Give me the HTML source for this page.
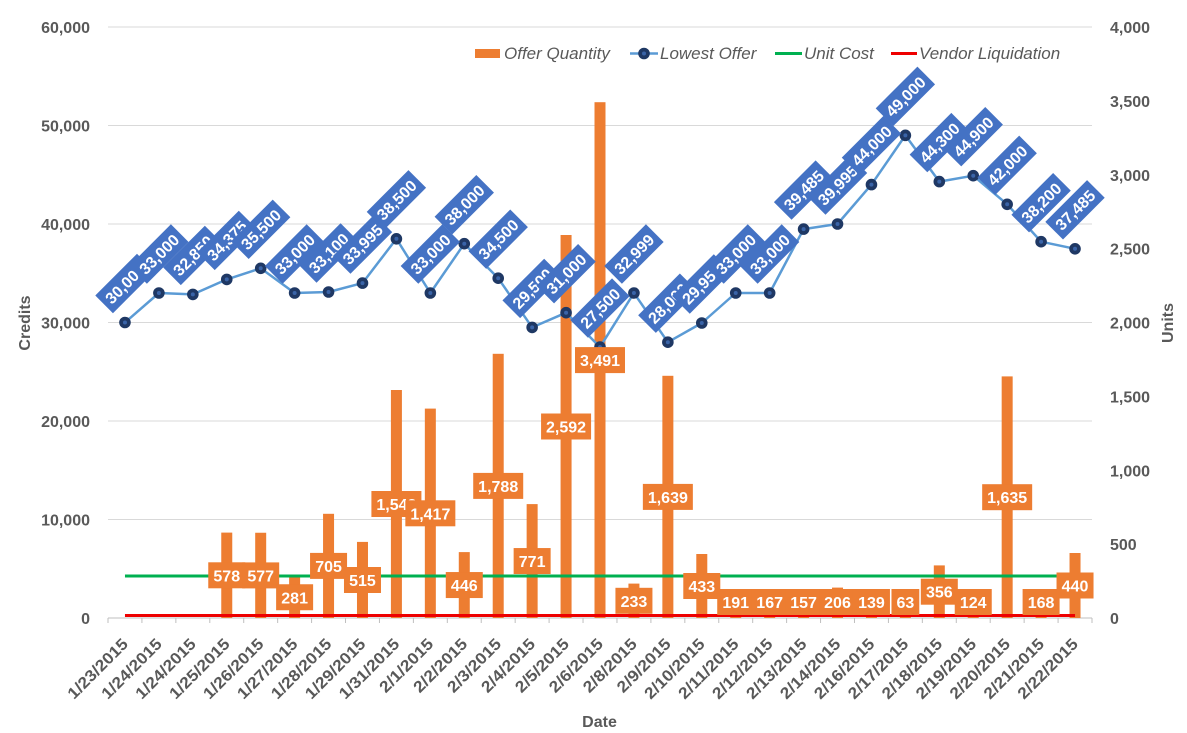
<!DOCTYPE html>
<html>
<head>
<meta charset="utf-8">
<style>
  html, body { margin: 0; padding: 0; background: #ffffff; }
  svg { display: block; }
  .tick { font-family: "Liberation Sans", sans-serif; font-weight: bold; font-size: 16px; fill: #595959; }
  .leg { font-family: "Liberation Sans", sans-serif; font-style: italic; font-size: 17px; fill: #595959; }
  .bl { font-family: "Liberation Sans", sans-serif; font-weight: bold; font-size: 16px; fill: #ffffff; }
</style>
</head>
<body>
<svg width="1187" height="733" viewBox="0 0 1187 733" xmlns="http://www.w3.org/2000/svg">
  <rect width="1187" height="733" fill="#ffffff"/>

  <!-- gridlines -->
  <g stroke="#D9D9D9" stroke-width="1">
    <line x1="108" y1="27" x2="1092" y2="27"/>
    <line x1="108" y1="125.5" x2="1092" y2="125.5"/>
    <line x1="108" y1="224" x2="1092" y2="224"/>
    <line x1="108" y1="322.5" x2="1092" y2="322.5"/>
    <line x1="108" y1="421" x2="1092" y2="421"/>
    <line x1="108" y1="519.5" x2="1092" y2="519.5"/>
  </g>

  <!-- x axis -->
  <g stroke="#BFBFBF" stroke-width="1">
    <line x1="108" y1="618" x2="1092" y2="618"/>
    <line x1="108" y1="618" x2="108" y2="623"/>
    <line x1="141.93" y1="618" x2="141.93" y2="623"/>
    <line x1="175.86" y1="618" x2="175.86" y2="623"/>
    <line x1="209.79" y1="618" x2="209.79" y2="623"/>
    <line x1="243.72" y1="618" x2="243.72" y2="623"/>
    <line x1="277.66" y1="618" x2="277.66" y2="623"/>
    <line x1="311.59" y1="618" x2="311.59" y2="623"/>
    <line x1="345.52" y1="618" x2="345.52" y2="623"/>
    <line x1="379.45" y1="618" x2="379.45" y2="623"/>
    <line x1="413.38" y1="618" x2="413.38" y2="623"/>
    <line x1="447.31" y1="618" x2="447.31" y2="623"/>
    <line x1="481.24" y1="618" x2="481.24" y2="623"/>
    <line x1="515.17" y1="618" x2="515.17" y2="623"/>
    <line x1="549.10" y1="618" x2="549.10" y2="623"/>
    <line x1="583.03" y1="618" x2="583.03" y2="623"/>
    <line x1="616.97" y1="618" x2="616.97" y2="623"/>
    <line x1="650.90" y1="618" x2="650.90" y2="623"/>
    <line x1="684.83" y1="618" x2="684.83" y2="623"/>
    <line x1="718.76" y1="618" x2="718.76" y2="623"/>
    <line x1="752.69" y1="618" x2="752.69" y2="623"/>
    <line x1="786.62" y1="618" x2="786.62" y2="623"/>
    <line x1="820.55" y1="618" x2="820.55" y2="623"/>
    <line x1="854.48" y1="618" x2="854.48" y2="623"/>
    <line x1="888.41" y1="618" x2="888.41" y2="623"/>
    <line x1="922.34" y1="618" x2="922.34" y2="623"/>
    <line x1="956.28" y1="618" x2="956.28" y2="623"/>
    <line x1="990.21" y1="618" x2="990.21" y2="623"/>
    <line x1="1024.14" y1="618" x2="1024.14" y2="623"/>
    <line x1="1058.07" y1="618" x2="1058.07" y2="623"/>
    <line x1="1092" y1="618" x2="1092" y2="623"/>
  </g>

  <!-- left axis labels -->
  <g class="tick" text-anchor="end">
    <text x="90" y="33">60,000</text>
    <text x="90" y="131.5">50,000</text>
    <text x="90" y="230">40,000</text>
    <text x="90" y="328.5">30,000</text>
    <text x="90" y="427">20,000</text>
    <text x="90" y="525.5">10,000</text>
    <text x="90" y="624">0</text>
  </g>
  <!-- right axis labels -->
  <g class="tick" text-anchor="start">
    <text x="1110" y="33">4,000</text>
    <text x="1110" y="106.9">3,500</text>
    <text x="1110" y="180.75">3,000</text>
    <text x="1110" y="254.6">2,500</text>
    <text x="1110" y="328.5">2,000</text>
    <text x="1110" y="402.4">1,500</text>
    <text x="1110" y="476.25">1,000</text>
    <text x="1110" y="550.1">500</text>
    <text x="1110" y="624">0</text>
  </g>

  <!-- axis titles -->
  <text class="tick" text-anchor="middle" transform="translate(30,323) rotate(-90)">Credits</text>
  <text class="tick" text-anchor="middle" transform="translate(1173,323) rotate(-90)">Units</text>
  <text class="tick" x="599.5" y="727" text-anchor="middle">Date</text>

  <!-- x labels -->
  <g class="tick" text-anchor="end">
    <text transform="translate(128.97,645) rotate(-45)" textLength="77.8" lengthAdjust="spacingAndGlyphs">1/23/2015</text>
    <text transform="translate(162.90,645) rotate(-45)" textLength="77.8" lengthAdjust="spacingAndGlyphs">1/24/2015</text>
    <text transform="translate(196.83,645) rotate(-45)" textLength="77.8" lengthAdjust="spacingAndGlyphs">1/24/2015</text>
    <text transform="translate(230.76,645) rotate(-45)" textLength="77.8" lengthAdjust="spacingAndGlyphs">1/25/2015</text>
    <text transform="translate(264.69,645) rotate(-45)" textLength="77.8" lengthAdjust="spacingAndGlyphs">1/26/2015</text>
    <text transform="translate(298.62,645) rotate(-45)" textLength="77.8" lengthAdjust="spacingAndGlyphs">1/27/2015</text>
    <text transform="translate(332.55,645) rotate(-45)" textLength="77.8" lengthAdjust="spacingAndGlyphs">1/28/2015</text>
    <text transform="translate(366.48,645) rotate(-45)" textLength="77.8" lengthAdjust="spacingAndGlyphs">1/29/2015</text>
    <text transform="translate(400.41,645) rotate(-45)" textLength="77.8" lengthAdjust="spacingAndGlyphs">1/31/2015</text>
    <text transform="translate(434.34,645) rotate(-45)" textLength="68.7" lengthAdjust="spacingAndGlyphs">2/1/2015</text>
    <text transform="translate(468.28,645) rotate(-45)" textLength="68.7" lengthAdjust="spacingAndGlyphs">2/2/2015</text>
    <text transform="translate(502.21,645) rotate(-45)" textLength="68.7" lengthAdjust="spacingAndGlyphs">2/3/2015</text>
    <text transform="translate(536.14,645) rotate(-45)" textLength="68.7" lengthAdjust="spacingAndGlyphs">2/4/2015</text>
    <text transform="translate(570.07,645) rotate(-45)" textLength="68.7" lengthAdjust="spacingAndGlyphs">2/5/2015</text>
    <text transform="translate(604.00,645) rotate(-45)" textLength="68.7" lengthAdjust="spacingAndGlyphs">2/6/2015</text>
    <text transform="translate(637.93,645) rotate(-45)" textLength="68.7" lengthAdjust="spacingAndGlyphs">2/8/2015</text>
    <text transform="translate(671.86,645) rotate(-45)" textLength="68.7" lengthAdjust="spacingAndGlyphs">2/9/2015</text>
    <text transform="translate(705.79,645) rotate(-45)" textLength="77.8" lengthAdjust="spacingAndGlyphs">2/10/2015</text>
    <text transform="translate(739.72,645) rotate(-45)" textLength="77.8" lengthAdjust="spacingAndGlyphs">2/11/2015</text>
    <text transform="translate(773.66,645) rotate(-45)" textLength="77.8" lengthAdjust="spacingAndGlyphs">2/12/2015</text>
    <text transform="translate(807.59,645) rotate(-45)" textLength="77.8" lengthAdjust="spacingAndGlyphs">2/13/2015</text>
    <text transform="translate(841.52,645) rotate(-45)" textLength="77.8" lengthAdjust="spacingAndGlyphs">2/14/2015</text>
    <text transform="translate(875.45,645) rotate(-45)" textLength="77.8" lengthAdjust="spacingAndGlyphs">2/16/2015</text>
    <text transform="translate(909.38,645) rotate(-45)" textLength="77.8" lengthAdjust="spacingAndGlyphs">2/17/2015</text>
    <text transform="translate(943.31,645) rotate(-45)" textLength="77.8" lengthAdjust="spacingAndGlyphs">2/18/2015</text>
    <text transform="translate(977.24,645) rotate(-45)" textLength="77.8" lengthAdjust="spacingAndGlyphs">2/19/2015</text>
    <text transform="translate(1011.17,645) rotate(-45)" textLength="77.8" lengthAdjust="spacingAndGlyphs">2/20/2015</text>
    <text transform="translate(1045.10,645) rotate(-45)" textLength="77.8" lengthAdjust="spacingAndGlyphs">2/21/2015</text>
    <text transform="translate(1079.03,645) rotate(-45)" textLength="77.8" lengthAdjust="spacingAndGlyphs">2/22/2015</text>
  </g>

  <!-- bars -->
  <g fill="#ED7D31">
    <rect x="221.26" y="532.6" width="11" height="85.4"/>
    <rect x="255.19" y="532.75" width="11" height="85.25"/>
    <rect x="289.12" y="576.5" width="11" height="41.5"/>
    <rect x="323.05" y="513.8" width="11" height="104.2"/>
    <rect x="356.98" y="541.9" width="11" height="76.1"/>
    <rect x="390.91" y="390.0" width="11" height="228.0"/>
    <rect x="424.84" y="408.6" width="11" height="209.4"/>
    <rect x="458.78" y="552.1" width="11" height="65.9"/>
    <rect x="492.71" y="353.8" width="11" height="264.2"/>
    <rect x="526.64" y="504.1" width="11" height="113.9"/>
    <rect x="560.57" y="235.0" width="11" height="383.0"/>
    <rect x="594.50" y="102.2" width="11" height="515.8"/>
    <rect x="628.43" y="583.6" width="11" height="34.4"/>
    <rect x="662.36" y="375.8" width="11" height="242.2"/>
    <rect x="696.29" y="554.0" width="11" height="64.0"/>
    <rect x="730.22" y="589.8" width="11" height="28.2"/>
    <rect x="764.16" y="593.3" width="11" height="24.7"/>
    <rect x="798.09" y="594.8" width="11" height="23.2"/>
    <rect x="832.02" y="587.6" width="11" height="30.4"/>
    <rect x="865.95" y="597.5" width="11" height="20.5"/>
    <rect x="899.88" y="608.7" width="11" height="9.3"/>
    <rect x="933.81" y="565.4" width="11" height="52.6"/>
    <rect x="967.74" y="599.7" width="11" height="18.3"/>
    <rect x="1001.67" y="376.4" width="11" height="241.6"/>
    <rect x="1035.60" y="593.2" width="11" height="24.8"/>
    <rect x="1069.53" y="553.0" width="11" height="65.0"/>
  </g>

  <!-- unit cost & vendor liquidation -->
  <line x1="124.97" y1="576" x2="1075.03" y2="576" stroke="#00B050" stroke-width="3"/>
  <line x1="124.97" y1="615.5" x2="1075.03" y2="615.5" stroke="#EE0000" stroke-width="3"/>

  <!-- lowest offer line -->
  <polyline fill="none" stroke="#5B9BD5" stroke-width="2.5" stroke-linejoin="round"
    points="124.97,322.5 158.90,293.0 192.83,294.4 226.76,279.4 260.69,268.3 294.62,293.0 328.55,292.0 362.48,283.1 396.41,238.8 430.34,293.0 464.28,243.7 498.21,278.2 532.14,327.4 566.07,312.7 600.00,347.1 633.93,293.0 667.86,342.2 701.79,323.0 735.72,293.0 769.66,293.0 803.59,229.1 837.52,224.0 871.45,184.6 905.38,135.35 939.31,181.6 973.24,175.7 1007.17,204.3 1041.10,241.7 1075.03,248.8"/>
  <g fill="#1F3864" stroke="#1F3864" stroke-width="1">
    <circle cx="124.97" cy="322.5" r="5.3"/><circle cx="158.90" cy="293.0" r="5.3"/><circle cx="192.83" cy="294.4" r="5.3"/><circle cx="226.76" cy="279.4" r="5.3"/><circle cx="260.69" cy="268.3" r="5.3"/><circle cx="294.62" cy="293.0" r="5.3"/><circle cx="328.55" cy="292.0" r="5.3"/><circle cx="362.48" cy="283.1" r="5.3"/><circle cx="396.41" cy="238.8" r="5.3"/><circle cx="430.34" cy="293.0" r="5.3"/><circle cx="464.28" cy="243.7" r="5.3"/><circle cx="498.21" cy="278.2" r="5.3"/><circle cx="532.14" cy="327.4" r="5.3"/><circle cx="566.07" cy="312.7" r="5.3"/><circle cx="600.00" cy="347.1" r="5.3"/><circle cx="633.93" cy="293.0" r="5.3"/><circle cx="667.86" cy="342.2" r="5.3"/><circle cx="701.79" cy="323.0" r="5.3"/><circle cx="735.72" cy="293.0" r="5.3"/><circle cx="769.66" cy="293.0" r="5.3"/><circle cx="803.59" cy="229.1" r="5.3"/><circle cx="837.52" cy="224.0" r="5.3"/><circle cx="871.45" cy="184.6" r="5.3"/><circle cx="905.38" cy="135.35" r="5.3"/><circle cx="939.31" cy="181.6" r="5.3"/><circle cx="973.24" cy="175.7" r="5.3"/><circle cx="1007.17" cy="204.3" r="5.3"/><circle cx="1041.10" cy="241.7" r="5.3"/><circle cx="1075.03" cy="248.8" r="5.3"/>
  </g>
  <g fill="#3A64A8">
    <circle cx="124.97" cy="322.5" r="2"/><circle cx="158.90" cy="293.0" r="2"/><circle cx="192.83" cy="294.4" r="2"/><circle cx="226.76" cy="279.4" r="2"/><circle cx="260.69" cy="268.3" r="2"/><circle cx="294.62" cy="293.0" r="2"/><circle cx="328.55" cy="292.0" r="2"/><circle cx="362.48" cy="283.1" r="2"/><circle cx="396.41" cy="238.8" r="2"/><circle cx="430.34" cy="293.0" r="2"/><circle cx="464.28" cy="243.7" r="2"/><circle cx="498.21" cy="278.2" r="2"/><circle cx="532.14" cy="327.4" r="2"/><circle cx="566.07" cy="312.7" r="2"/><circle cx="600.00" cy="347.1" r="2"/><circle cx="633.93" cy="293.0" r="2"/><circle cx="667.86" cy="342.2" r="2"/><circle cx="701.79" cy="323.0" r="2"/><circle cx="735.72" cy="293.0" r="2"/><circle cx="769.66" cy="293.0" r="2"/><circle cx="803.59" cy="229.1" r="2"/><circle cx="837.52" cy="224.0" r="2"/><circle cx="871.45" cy="184.6" r="2"/><circle cx="905.38" cy="135.35" r="2"/><circle cx="939.31" cy="181.6" r="2"/><circle cx="973.24" cy="175.7" r="2"/><circle cx="1007.17" cy="204.3" r="2"/><circle cx="1041.10" cy="241.7" r="2"/><circle cx="1075.03" cy="248.8" r="2"/>
  </g>

  <!-- bar data labels -->
  <g class="bl" text-anchor="middle">
    <rect x="208.26" y="562.3" width="37" height="26" fill="#ED7D31"/><text x="226.76" y="581.3">578</text>
    <rect x="242.19" y="562.4" width="37" height="26" fill="#ED7D31"/><text x="260.69" y="581.4">577</text>
    <rect x="276.12" y="584.25" width="37" height="26" fill="#ED7D31"/><text x="294.62" y="603.25">281</text>
    <rect x="310.05" y="552.9" width="37" height="26" fill="#ED7D31"/><text x="328.55" y="571.9">705</text>
    <rect x="343.98" y="567.0" width="37" height="26" fill="#ED7D31"/><text x="362.48" y="586.0">515</text>
    <rect x="371.41" y="491.0" width="50" height="26" fill="#ED7D31"/><text x="396.41" y="510.0">1,543</text>
    <rect x="405.34" y="500.3" width="50" height="26" fill="#ED7D31"/><text x="430.34" y="519.3">1,417</text>
    <rect x="445.78" y="572.05" width="37" height="26" fill="#ED7D31"/><text x="464.28" y="591.05">446</text>
    <rect x="473.21" y="472.9" width="50" height="26" fill="#ED7D31"/><text x="498.21" y="491.9">1,788</text>
    <rect x="513.64" y="548.05" width="37" height="26" fill="#ED7D31"/><text x="532.14" y="567.05">771</text>
    <rect x="541.07" y="413.5" width="50" height="26" fill="#ED7D31"/><text x="566.07" y="432.5">2,592</text>
    <rect x="575.00" y="347.1" width="50" height="26" fill="#ED7D31"/><text x="600.00" y="366.1">3,491</text>
    <rect x="615.43" y="587.8" width="37" height="26" fill="#ED7D31"/><text x="633.93" y="606.8">233</text>
    <rect x="642.86" y="483.9" width="50" height="26" fill="#ED7D31"/><text x="667.86" y="502.9">1,639</text>
    <rect x="683.29" y="573.0" width="37" height="26" fill="#ED7D31"/><text x="701.79" y="592.0">433</text>
    <rect x="717.22" y="589" width="37" height="26" fill="#ED7D31"/><text x="735.72" y="608">191</text>
    <rect x="751.16" y="589" width="37" height="26" fill="#ED7D31"/><text x="769.66" y="608">167</text>
    <rect x="785.09" y="589" width="37" height="26" fill="#ED7D31"/><text x="803.59" y="608">157</text>
    <rect x="819.02" y="589" width="37" height="26" fill="#ED7D31"/><text x="837.52" y="608">206</text>
    <rect x="852.95" y="589" width="37" height="26" fill="#ED7D31"/><text x="871.45" y="608">139</text>
    <rect x="891.48" y="589" width="27.8" height="26" fill="#ED7D31"/><text x="905.38" y="608">63</text>
    <rect x="920.81" y="578.7" width="37" height="26" fill="#ED7D31"/><text x="939.31" y="597.7">356</text>
    <rect x="954.74" y="589" width="37" height="26" fill="#ED7D31"/><text x="973.24" y="608">124</text>
    <rect x="982.17" y="484.2" width="50" height="26" fill="#ED7D31"/><text x="1007.17" y="503.2">1,635</text>
    <rect x="1022.60" y="589" width="37" height="26" fill="#ED7D31"/><text x="1041.10" y="608">168</text>
    <rect x="1056.53" y="572.5" width="37" height="26" fill="#ED7D31"/><text x="1075.03" y="591.5">440</text>
  </g>

  <!-- lowest offer data labels -->
  <g class="bl" text-anchor="middle">
    <g transform="translate(124.97,283.5) rotate(-45)"><rect x="-29.5" y="-12.5" width="59" height="25" fill="#4472C4"/><text y="6">30,000</text></g>
    <g transform="translate(158.90,254.0) rotate(-45)"><rect x="-29.5" y="-12.5" width="59" height="25" fill="#4472C4"/><text y="6">33,000</text></g>
    <g transform="translate(192.83,255.4) rotate(-45)"><rect x="-29.5" y="-12.5" width="59" height="25" fill="#4472C4"/><text y="6">32,850</text></g>
    <g transform="translate(226.76,240.4) rotate(-45)"><rect x="-29.5" y="-12.5" width="59" height="25" fill="#4472C4"/><text y="6">34,375</text></g>
    <g transform="translate(260.69,229.3) rotate(-45)"><rect x="-29.5" y="-12.5" width="59" height="25" fill="#4472C4"/><text y="6">35,500</text></g>
    <g transform="translate(294.62,254.0) rotate(-45)"><rect x="-29.5" y="-12.5" width="59" height="25" fill="#4472C4"/><text y="6">33,000</text></g>
    <g transform="translate(328.55,253.0) rotate(-45)"><rect x="-29.5" y="-12.5" width="59" height="25" fill="#4472C4"/><text y="6">33,100</text></g>
    <g transform="translate(362.48,244.1) rotate(-45)"><rect x="-29.5" y="-12.5" width="59" height="25" fill="#4472C4"/><text y="6">33,995</text></g>
    <g transform="translate(396.41,199.8) rotate(-45)"><rect x="-29.5" y="-12.5" width="59" height="25" fill="#4472C4"/><text y="6">38,500</text></g>
    <g transform="translate(430.34,254.0) rotate(-45)"><rect x="-29.5" y="-12.5" width="59" height="25" fill="#4472C4"/><text y="6">33,000</text></g>
    <g transform="translate(464.28,204.7) rotate(-45)"><rect x="-29.5" y="-12.5" width="59" height="25" fill="#4472C4"/><text y="6">38,000</text></g>
    <g transform="translate(498.21,239.2) rotate(-45)"><rect x="-29.5" y="-12.5" width="59" height="25" fill="#4472C4"/><text y="6">34,500</text></g>
    <g transform="translate(532.14,288.4) rotate(-45)"><rect x="-29.5" y="-12.5" width="59" height="25" fill="#4472C4"/><text y="6">29,500</text></g>
    <g transform="translate(566.07,273.7) rotate(-45)"><rect x="-29.5" y="-12.5" width="59" height="25" fill="#4472C4"/><text y="6">31,000</text></g>
    <g transform="translate(600.00,308.1) rotate(-45)"><rect x="-29.5" y="-12.5" width="59" height="25" fill="#4472C4"/><text y="6">27,500</text></g>
    <g transform="translate(633.93,254.0) rotate(-45)"><rect x="-29.5" y="-12.5" width="59" height="25" fill="#4472C4"/><text y="6">32,999</text></g>
    <g transform="translate(667.86,303.2) rotate(-45)"><rect x="-29.5" y="-12.5" width="59" height="25" fill="#4472C4"/><text y="6">28,000</text></g>
    <g transform="translate(701.79,284.0) rotate(-45)"><rect x="-29.5" y="-12.5" width="59" height="25" fill="#4472C4"/><text y="6">29,950</text></g>
    <g transform="translate(735.72,254.0) rotate(-45)"><rect x="-29.5" y="-12.5" width="59" height="25" fill="#4472C4"/><text y="6">33,000</text></g>
    <g transform="translate(769.66,254.0) rotate(-45)"><rect x="-29.5" y="-12.5" width="59" height="25" fill="#4472C4"/><text y="6">33,000</text></g>
    <g transform="translate(803.59,190.1) rotate(-45)"><rect x="-29.5" y="-12.5" width="59" height="25" fill="#4472C4"/><text y="6">39,485</text></g>
    <g transform="translate(837.52,185.0) rotate(-45)"><rect x="-29.5" y="-12.5" width="59" height="25" fill="#4472C4"/><text y="6">39,995</text></g>
    <g transform="translate(871.45,145.6) rotate(-45)"><rect x="-29.5" y="-12.5" width="59" height="25" fill="#4472C4"/><text y="6">44,000</text></g>
    <g transform="translate(905.38,96.35) rotate(-45)"><rect x="-29.5" y="-12.5" width="59" height="25" fill="#4472C4"/><text y="6">49,000</text></g>
    <g transform="translate(939.31,142.6) rotate(-45)"><rect x="-29.5" y="-12.5" width="59" height="25" fill="#4472C4"/><text y="6">44,300</text></g>
    <g transform="translate(973.24,136.7) rotate(-45)"><rect x="-29.5" y="-12.5" width="59" height="25" fill="#4472C4"/><text y="6">44,900</text></g>
    <g transform="translate(1007.17,165.3) rotate(-45)"><rect x="-29.5" y="-12.5" width="59" height="25" fill="#4472C4"/><text y="6">42,000</text></g>
    <g transform="translate(1041.10,202.7) rotate(-45)"><rect x="-29.5" y="-12.5" width="59" height="25" fill="#4472C4"/><text y="6">38,200</text></g>
    <g transform="translate(1075.03,209.8) rotate(-45)"><rect x="-29.5" y="-12.5" width="59" height="25" fill="#4472C4"/><text y="6">37,485</text></g>
  </g>

  <!-- legend -->
  <rect x="475" y="49" width="25" height="9" fill="#ED7D31"/>
  <text class="leg" x="504" y="59">Offer Quantity</text>
  <line x1="630" y1="53.5" x2="658" y2="53.5" stroke="#5B9BD5" stroke-width="2.5"/>
  <circle cx="644" cy="53.5" r="5.3" fill="#1F3864" stroke="#1F3864"/>
  <circle cx="644" cy="53.5" r="2" fill="#3A64A8"/>
  <text class="leg" x="660" y="59">Lowest Offer</text>
  <line x1="775" y1="53.5" x2="802" y2="53.5" stroke="#00B050" stroke-width="3"/>
  <text class="leg" x="804" y="59">Unit Cost</text>
  <line x1="891" y1="53.5" x2="917" y2="53.5" stroke="#EE0000" stroke-width="3"/>
  <text class="leg" x="919" y="59">Vendor Liquidation</text>
</svg>
</body>
</html>
